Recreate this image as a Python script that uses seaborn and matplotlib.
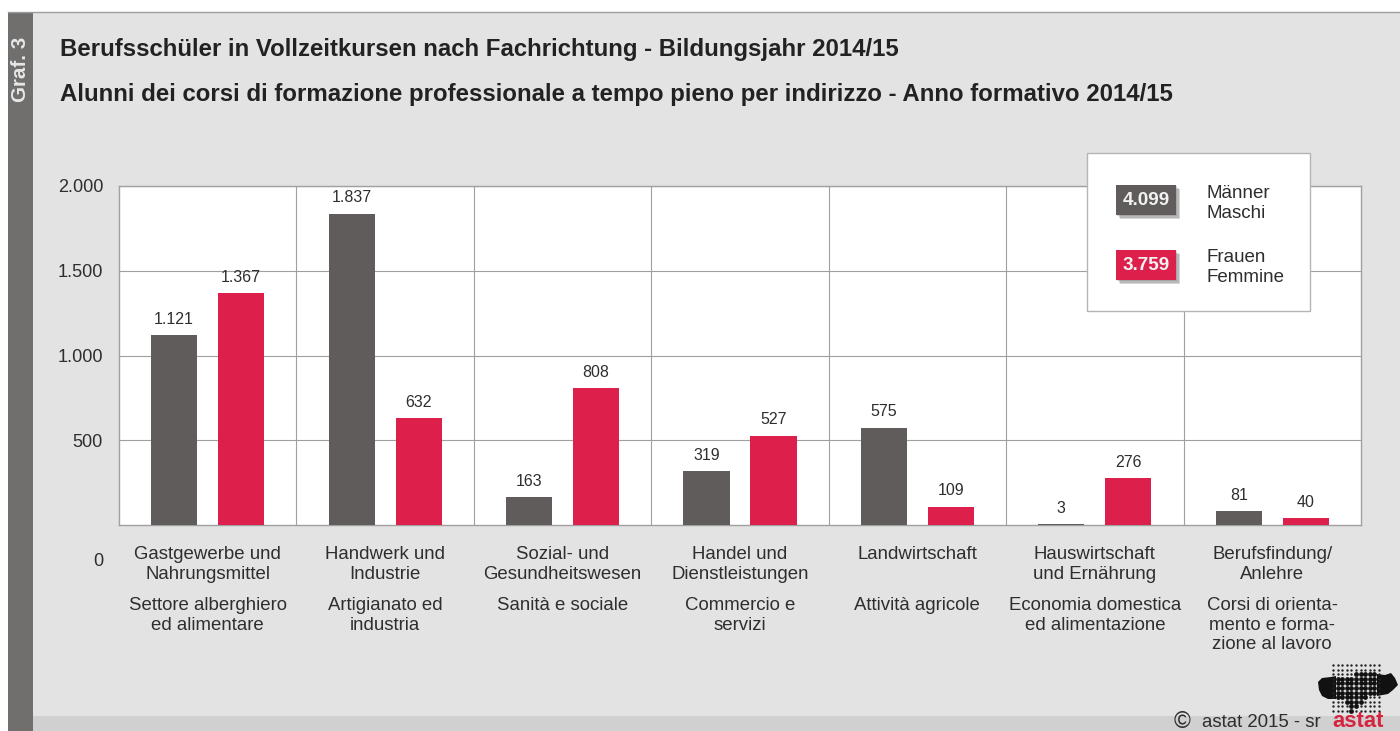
import numpy as np
import pandas as pd
import seaborn as sns
import matplotlib.pyplot as plt
from matplotlib.patches import Rectangle, Polygon
from matplotlib.path import Path
import matplotlib.patheffects as pe

TITLE_DE = 'Berufsschüler in Vollzeitkursen nach Fachrichtung - Bildungsjahr 2014/15'
TITLE_IT = 'Alunni dei corsi di formazione professionale a tempo pieno per indirizzo - Anno formativo 2014/15'

labels_de = ['Gastgewerbe und\nNahrungsmittel', 'Handwerk und\nIndustrie', 'Sozial- und\nGesundheitswesen',
             'Handel und\nDienstleistungen', 'Landwirtschaft', 'Hauswirtschaft\nund Ernährung', 'Berufsfindung/\nAnlehre']
labels_it = ['Settore alberghiero\ned alimentare', 'Artigianato ed\nindustria', 'Sanità e sociale',
             'Commercio e\nservizi', 'Attività agricole', 'Economia domestica\ned alimentazione',
             'Corsi di orienta-\nmento e forma-\nzione al lavoro']

men = [1121, 1837, 163, 319, 575, 3, 81]
women = [1367, 632, 808, 527, 109, 276, 40]
y_ticks = [500, 1000, 1500, 2000]
y_tick_labels = ['500', '1.000', '1.500', '2.000']

GREY = '#5f5c5b'
RED = '#dc1f4b'
BG = '#e3e3e3'
LINE = '#a0a0a0'
TXT = '#2e2e2e'

plt.rcParams['font.family'] = ['Liberation Sans', 'DejaVu Sans']

W, H = 1400, 731
fig = plt.figure(figsize=(W / 100, H / 100), dpi=100, facecolor='white')

# background panels, in pixel coordinates
bg = fig.add_axes([0, 0, 1, 1], zorder=0)
bg.set_xlim(0, W)
bg.set_ylim(H, 0)
bg.axis('off')
bg.add_patch(Rectangle((8, 12), W - 8, H - 12, fc=BG, ec='none'))
bg.add_patch(Rectangle((33, 716), W - 33, 15, fc='#d0d0d0', ec='none'))
bg.add_patch(Rectangle((8, 12), 25, H - 12, fc='#706f6e', ec='none'))
bg.plot([8, W], [12, 12], color='#9d9d9d', lw=1)
bg.text(20, 69, 'Graf. 3', rotation=90, color='#e6e6e6', fontsize=14.8, fontweight='bold', ha='center', va='center')
bg.text(60, 49.5, TITLE_DE, fontsize=17.3, fontweight='bold', color='#222222', va='center')
bg.text(60, 94, TITLE_IT, fontsize=17.3, fontweight='bold', color='#222222', va='center')

# bars
df = pd.DataFrame({
    'cat': list(range(7)) * 2,
    'value': men + women,
    'sex': ['Männer'] * 7 + ['Frauen'] * 7,
})
ax = fig.add_axes([119 / W, 1 - 525 / H, (1361 - 119) / W, (525 - 186) / H], zorder=1)
sns.barplot(data=df, x='cat', y='value', hue='sex', palette=[GREY, RED], width=0.756, gap=0.312,
            legend=False, ax=ax, zorder=3, saturation=1)
ax.set_xlim(-0.5, 6.5)
ax.set_ylim(0, 2000)
ax.set_xlabel('')
ax.set_ylabel('')
ax.set_yticks(y_ticks)
ax.set_yticklabels(y_tick_labels, fontsize=13.1, color=TXT)
ax.set_xticks(np.arange(7))
ax.set_xticklabels([])
ax.tick_params(length=0, pad=11.5)
ax.set_xticks(np.arange(0.5, 6.5), minor=True)
ax.tick_params(which='minor', length=0)
ax.grid(axis='y', color=LINE, lw=0.8, zorder=0)
ax.grid(axis='x', which='minor', color=LINE, lw=0.8, zorder=0)
ax.grid(axis='x', which='major', visible=False)
ax.set_axisbelow(True)
for s in ax.spines.values():
    s.set_color(LINE)
    s.set_linewidth(1)

for cont, vals in zip(ax.containers, [men, women]):
    ax.bar_label(cont, labels=[f'{v:,}'.replace(',', '.') for v in vals], padding=6, fontsize=11.5, color=TXT)

# zero tick sits below the axis, next to the category labels
bg.text(98.5, 562, '0', fontsize=13.1, color=TXT, ha='center', va='center')

for i in range(7):
    cx = ax.transData.transform((i, 0))[0]
    bg.text(cx, 546, labels_de[i], fontsize=13.4, color=TXT, ha='center', va='top', linespacing=1.2)
    bg.text(cx, 597, labels_it[i], fontsize=13.4, color=TXT, ha='center', va='top', linespacing=1.2)

# legend box
box = fig.add_axes([0, 0, 1, 1], zorder=2)
box.set_xlim(0, W)
box.set_ylim(H, 0)
box.axis('off')
box.add_patch(Rectangle((1087, 153), 223, 158, fc='white', ec='#b5b5b5', lw=1))
soft = [pe.SimplePatchShadow(offset=(o, -o), shadow_rgbFace='#777777', alpha=0.3) for o in (3, 2, 1)] + [pe.Normal()]
for y0, col, val, l1, l2 in [(185, GREY, '4.099', 'Männer', 'Maschi'), (250, RED, '3.759', 'Frauen', 'Femmine')]:
    box.add_patch(Rectangle((1116, y0), 60, 30, fc=col, ec='none', path_effects=soft))
    box.text(1146, y0 + 15.5, val, color='#f2f2f2', fontsize=13.6, fontweight='bold', ha='center', va='center')
    box.text(1206, y0 + 8, l1, color=TXT, fontsize=13.5, ha='left', va='center')
    box.text(1206, y0 + 28, l2, color=TXT, fontsize=13.5, ha='left', va='center')

# footer
bg.text(1182, 721, '©', fontsize=16.5, color=TXT, ha='center', va='center')
bg.text(1202, 727, 'astat 2015 - sr', fontsize=13.4, color=TXT, ha='left', va='baseline')
bg.text(1358, 727, 'astat', fontsize=15.8, color='#d5243f', fontweight='bold', ha='center', va='baseline')

# logo: dot raster with solid ends
main = [(1335, 677), (1338, 675), (1378, 673), (1378, 695), (1367, 697), (1365, 702), (1357, 707),
        (1354, 713), (1350, 713), (1348, 707), (1342, 698), (1335, 698)]
left = [(1318, 682), (1322, 678), (1331, 677), (1336, 676), (1336, 699), (1328, 699), (1322, 696), (1319, 690)]
right = [(1377, 674), (1385, 675), (1391, 673), (1395, 678), (1398, 685), (1393, 690), (1388, 694), (1377, 696)]
bg.add_patch(Polygon(left, fc='#111111', ec='none'))
bg.add_patch(Polygon(right, fc='#111111', ec='none'))
gx, gy = np.meshgrid(np.arange(1333, 1380, 4.6), np.arange(665, 715, 4.6))
pts = np.column_stack([gx.ravel(), gy.ravel()])
inside = Path(main).contains_points(pts)
bg.scatter(pts[~inside, 0], pts[~inside, 1], s=3, c='#222222', linewidths=0)
bg.scatter(pts[inside, 0], pts[inside, 1], s=12, c='#111111', linewidths=0)

plt.savefig('out.png', dpi=100, facecolor='white')
